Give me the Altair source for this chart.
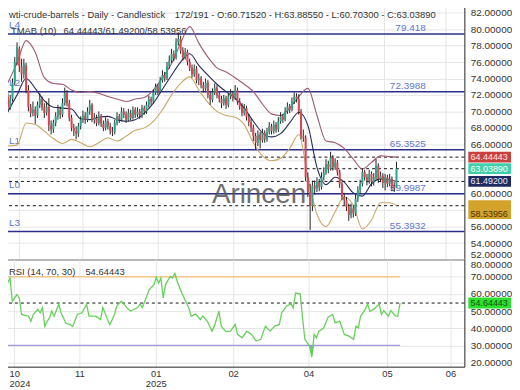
import json
import altair as alt
import pandas as pd

# ---------------- data ----------------
opens = [71.8,70.5,71.5,73.5,76.0,77.6,75.5,74.5,75.6,72.6,
70.5,69.8,70.2,69.5,70.8,71.5,70.5,69.8,70.6,68.3,
67.8,68.6,69.4,70.2,69.6,71.0,72.2,71.0,69.2,68.0,
67.6,67.3,68.2,69.0,69.5,69.0,70.0,70.8,69.0,69.2,
68.6,69.4,68.5,68.0,68.8,68.2,67.6,67.5,68.6,69.4,
69.0,70.0,69.6,69.0,69.8,69.2,70.2,69.6,70.0,69.5,
70.4,70.0,70.8,71.5,71.2,72.3,73.0,72.4,73.8,74.4,
74.0,75.5,76.2,77.0,76.5,78.4,78.8,77.4,76.6,77.2,
76.0,75.3,74.5,75.2,73.8,74.0,73.2,72.8,73.5,72.0,
71.4,72.3,72.9,72.0,71.5,71.0,71.6,70.8,71.8,72.2,
71.6,72.6,71.2,70.6,69.8,70.4,69.3,68.7,68.0,67.0,
66.2,67.2,66.5,67.4,66.6,67.5,68.2,67.6,68.4,67.8,
68.8,69.4,69.0,70.0,70.6,70.2,71.2,71.8,71.5,70.0,
67.0,66.8,62.0,60.2,58.5,61.0,60.6,61.4,60.8,62.0,
62.6,63.6,63.0,64.4,63.2,63.8,62.6,61.2,59.6,59.2,
58.4,57.4,58.2,57.6,59.4,60.4,61.2,62.6,62.0,61.6,
62.4,61.4,62.0,63.4,61.8,62.2,61.3,62.0,61.2,61.8,
60.9,60.7152]
highs = [72.2,72.0,74.0,76.6,78.4,77.9,76.4,76.4,75.9,73.2,
70.9,71.2,70.6,71.2,72.2,71.8,71.0,71.2,71.6,68.9,
69.0,69.9,70.8,70.6,71.6,72.9,72.6,71.4,69.6,68.5,
68.2,68.6,69.4,70.1,69.9,70.5,71.4,71.0,69.8,69.6,
70.0,69.7,68.9,69.3,69.1,68.6,68.1,69.0,69.9,69.7,
70.5,70.4,70.0,70.3,70.2,70.6,70.5,70.5,70.3,70.8,
70.7,71.2,71.9,71.8,72.7,73.4,73.3,74.2,75.0,74.8,
76.0,76.8,77.6,77.4,78.9,79.6,79.2,77.8,77.7,77.5,
76.4,75.7,75.7,75.5,74.6,74.3,73.6,74.0,73.8,72.4,
72.8,73.4,73.2,72.4,71.9,72.0,71.9,72.2,72.7,72.5,
73.2,72.9,71.6,71.0,70.9,70.7,69.7,69.1,68.4,67.4,
67.7,67.5,67.9,67.7,68.0,68.7,68.5,68.9,68.7,69.3,
69.9,69.7,70.5,71.1,70.9,71.7,72.3,72.2,72.1,70.3,
67.8,67.1,62.6,61.2,61.6,61.6,62.0,61.8,62.6,63.2,
64.2,64.0,65.1,64.7,64.3,64.1,62.9,61.5,60.1,59.6,
58.8,58.8,58.6,59.9,60.9,61.7,63.1,62.9,62.4,62.9,
62.7,62.5,64.2,63.7,62.7,62.5,62.4,62.3,62.4,62.1,
61.4,63.8855]
lows = [69.9,70.2,71.2,73.2,75.6,74.8,73.6,74.0,72.2,70.0,
69.3,69.4,68.5,69.2,70.4,70.1,69.2,69.5,67.6,67.2,
67.4,68.2,69.0,69.1,69.3,70.7,70.6,68.8,67.6,67.0,
66.6,66.9,67.8,68.6,68.5,68.7,69.6,68.7,68.5,68.2,
68.3,68.1,67.6,67.7,67.8,67.2,67.0,67.2,68.3,68.6,
68.8,69.2,68.6,68.8,68.9,69.0,69.2,69.3,69.1,69.2,
69.6,69.7,70.5,70.8,71.0,72.0,72.0,72.2,73.5,73.6,
73.8,75.2,75.9,76.1,76.3,78.0,77.0,76.2,76.3,75.6,
74.9,74.1,74.2,73.4,73.2,72.8,72.3,72.5,71.6,70.8,
71.1,72.0,71.6,71.1,70.4,70.7,70.3,70.5,71.5,71.2,
71.4,70.8,70.2,69.4,69.5,68.9,68.2,67.5,66.4,65.4,
65.8,65.5,66.2,66.2,66.3,67.2,67.2,67.3,67.4,67.5,
68.5,68.6,68.8,69.7,69.8,70.0,70.9,71.1,69.6,66.6,
66.3,61.5,59.6,55.6,57.9,59.9,60.2,60.3,60.5,61.6,
62.3,62.5,62.8,62.8,62.9,62.2,60.7,59.2,58.6,57.9,
56.7,57.0,57.1,57.3,59.0,60.0,60.9,61.6,61.0,61.2,
60.9,61.0,61.7,61.3,61.4,60.7,60.4,60.8,60.9,60.3,
60.2,60.703]
closes = [70.5,71.5,73.5,76.0,77.8,75.5,74.5,75.8,72.5,70.5,
69.8,70.2,69.5,70.8,71.5,70.5,69.8,70.6,68.3,67.8,
68.6,69.4,70.2,69.6,71.0,72.2,71.0,69.2,68.0,67.6,
67.3,68.2,69.0,69.5,69.0,70.0,70.8,69.0,69.2,68.6,
69.4,68.5,68.0,68.8,68.2,67.6,67.5,68.6,69.4,69.0,
70.0,69.6,69.0,69.8,69.2,70.2,69.6,70.0,69.5,70.4,
70.0,70.8,71.5,71.2,72.3,73.0,72.4,73.8,74.4,74.0,
75.5,76.2,77.0,76.5,78.4,78.8,77.4,76.6,77.2,76.0,
75.3,74.5,75.2,73.8,74.0,73.2,72.8,73.5,72.0,71.4,
72.3,72.9,72.0,71.5,71.0,71.6,70.8,71.8,72.2,71.6,
72.6,71.2,70.6,69.8,70.4,69.3,68.7,68.0,67.0,66.2,
67.2,66.5,67.4,66.6,67.5,68.2,67.6,68.4,67.8,68.8,
69.4,69.0,70.0,70.6,70.2,71.2,71.8,71.5,70.0,67.0,
66.8,62.0,60.2,58.5,61.0,60.6,61.4,60.8,62.0,62.6,
63.6,63.0,64.4,63.2,63.8,62.6,61.2,59.6,59.2,58.4,
57.4,58.2,57.6,59.4,60.4,61.2,62.6,62.0,61.6,62.4,
61.4,62.0,63.4,61.8,62.2,61.3,62.0,61.2,61.8,60.9,
60.7,63.0389]

band_idx = [0,4,8,12,16,20,24,28,32,36,40,44,48,52,56,60,64,68,72,76,80,84,
            88,92,96,100,104,108,112,116,120,124,128,132,136,140,144,148,152,156,160,164,168,171]
band_upper = [73.5,75.9,78.6,77.2,74.1,73.4,73.3,72.6,72.3,72.4,72.2,71.8,71.5,71.2,71.5,71.7,
              72.6,74.1,75.8,78.3,80.3,78.3,76.6,75.3,74.8,74.1,73.3,72.4,70.9,69.7,69.5,70.4,
              71.8,72.8,69.5,66.4,66.2,65.5,64.2,63.0,63.8,64.6,64.5,64.44443]
band_mid = [70.0,72.0,74.0,72.8,71.3,70.5,70.4,70.3,69.1,69.0,69.3,69.4,69.0,68.8,69.0,69.8,
            71.0,72.7,74.4,76.0,77.0,75.6,74.4,73.3,72.4,71.6,70.4,68.8,67.4,66.9,67.3,68.6,
            69.9,68.3,63.2,61.1,62.0,61.4,60.1,59.7,61.2,61.8,61.7,61.492]
band_lower = [65.8,65.9,68.6,68.4,67.6,66.7,66.1,66.6,66.2,65.7,66.2,66.8,66.4,67.0,67.7,68.0,
              68.8,70.2,72.0,73.4,74.2,72.6,71.1,70.0,69.5,69.3,68.4,66.2,64.6,64.0,64.3,65.5,
              67.2,62.0,57.5,56.0,57.8,59.6,58.6,55.7,56.8,58.9,58.9,58.53956]

rsi_idx = [0,1,3,4,6,7,8,11,12,13,15,16,17,18,19,20,21,22,24,25,27,29,30,32,34,36,37,40,42,43,
           45,46,48,49,51,52,54,55,58,59,60,63,65,66,67,68,69,70,72,73,74,75,77,79,80,81,83,85,86,88,
           90,91,93,94,96,98,100,101,103,105,107,109,111,113,115,117,119,120,122,124,125,126,128,129,130,
           132,133,134,135,136,138,140,142,143,145,147,149,151,152,153,154,156,157,158,160,162,163,164,
           166,167,169,170,171]
rsi_vals = [55.7,63.4,69.2,55.7,59.6,57.6,48.0,47.0,44.0,48.0,51.0,49.0,52.0,41.0,44.0,46.0,50.0,47.0,54.0,49.0,
            43.0,42.0,41.0,48.0,49.0,54.0,47.0,47.0,45.0,52.0,45.0,42.0,48.0,53.0,55.7,54.0,51.0,50.0,52.0,54.0,
            52.0,62.5,65.4,69.6,66.3,69.2,57.6,65.4,70.2,69.2,72.0,67.3,60.5,54.7,51.8,47.0,48.2,45.0,47.2,44.0,
            38.3,41.2,49.9,41.2,38.0,38.3,42.2,36.4,34.4,38.3,36.4,32.5,33.5,41.2,38.3,41.2,42.2,48.9,52.8,54.2,
            51.8,60.5,60.0,46.0,33.5,29.6,23.2,36.4,34.4,38.3,39.9,46.4,48.0,43.1,44.1,36.4,35.4,33.5,41.2,40.2,
            47.0,50.9,54.2,49.9,51.4,54.2,48.0,50.3,47.0,50.3,47.0,47.0,54.64443]

level_vals = [79.418, 72.3988, 65.3525, 59.9987, 55.3932]
level_left = ["L4", "L2", "L1", "L0", "L3"]
level_right = ["79.418", "72.3988", "65.3525", "59.9987", "55.3932"]

tag_vals = [64.44443, 63.03890, 61.49200, 58.53956]
tag_texts = ["64.44443", "63.03890", "61.49200", "58.53956"]
tag_bg = ["#c9413f", "#3fcfa9", "#1f2a5e", "#d3a22b"]
tag_fg = ["#ffe8e8", "#ffffff", "#e8ecff", "#4a3500"]

rsi_last = 54.64443
rsi_upper, rsi_lower = 70, 30

month_ticks = [4.7, 32.9, 65.8, 99.1, 131.6, 165.4, 192.7]
month_labels = [["10", "2024"], ["11"], ["01", "2025"], ["02"], ["04"], ["05"], ["06"]]
price_ticks = [52, 54, 56, 58, 60, 62, 64, 66, 68, 70, 72, 74, 76, 78, 80, 82]
hidden_price_labels = [58, 62, 64]
rsi_ticks = [20, 30, 40, 50, 60, 70, 80]

title_left = "wti-crude-barrels - Daily - Candlestick"
title_right = "172/191 - O:60.71520 - H:63.88550 - L:60.70300 - C:63.03890"
tmab_name = "TMAB (10)"
tmab_vals = "64.44443/61.49200/58.53956"
rsi_name = "RSI (14, 70, 30)"
rsi_val_text = "54.64443"
watermark = "Arincen"

# ---------------- chart ----------------
FONT = "Liberation Sans"
W, H1, H2 = 467, 260, 108
TS = 9.5

candles = pd.DataFrame({"i": list(range(len(closes))), "o": opens, "h": highs, "l": lows, "c": closes})
bands = pd.DataFrame({"i": band_idx, "upper": band_upper, "mid": band_mid, "lower": band_lower})
rsi = pd.DataFrame({"i": rsi_idx, "v": rsi_vals})
levels = pd.DataFrame({"v": level_vals, "left": level_left, "right": level_right})
tags = pd.DataFrame({"v": tag_vals, "t": tag_texts, "bg": tag_bg, "fg": tag_fg})

x_scale = alt.Scale(domain=[-0.85, 198.7], nice=False, zero=False)
y_scale = alt.Scale(domain=[52, 83.35], nice=False, zero=False)
r_scale = alt.Scale(domain=[17.6, 80], nice=False, zero=False)

expr = "''"
for t, lab in reversed(list(zip(month_ticks, month_labels))):
    expr = f"abs(datum.value - {t}) < 0.5 ? {json.dumps(lab)} : {expr}"

price_label_expr = f"indexof({json.dumps(hidden_price_labels)}, datum.value) >= 0 ? '' : datum.label"
first_tick_test = f"datum.value < {month_ticks[0] + 1}"

ax_main_x = alt.Axis(values=month_ticks, labels=False, ticks=False, domain=True, domainColor="#222",
                     domainWidth=1, grid=True, gridColor="#e6e6e6", title=None)
ax_rsi_x = alt.Axis(values=month_ticks, labelExpr=expr, ticks=False, domain=True, domainColor="#222",
                    grid=True, gridColor="#e6e6e6", title=None, labelAngle=0, labelPadding=2,
                    labelLineHeight=10, labelBaseline="top", labelFontSize=9.5,
                    labelAlign={"condition": {"test": first_tick_test, "value": "left"}, "value": "center"},
                    labelOffset={"condition": {"test": first_tick_test, "value": -5}, "value": 0})
ax_main_y = alt.Axis(orient="right", values=price_ticks, format=".5f", labelExpr=price_label_expr,
                     grid=True, gridColor="#e6e6e6", labelFlush=True,
                     ticks=False, domainColor="#222", labelPadding=6, title=None, labelFontSize=10)
ax_rsi_y = alt.Axis(orient="right", values=rsi_ticks, format=".5f", grid=True, gridColor="#e6e6e6",
                    labelFlush=True,
                    ticks=False, domainColor="#222", labelPadding=6, title=None, labelFontSize=10)


def XM(f="i"):
    return alt.X(f"{f}:Q", scale=x_scale, axis=ax_main_x)


def YM(f):
    return alt.Y(f"{f}:Q", scale=y_scale, axis=ax_main_y)


def XR(f="i"):
    return alt.X(f"{f}:Q", scale=x_scale, axis=ax_rsi_x)


def YR(f):
    return alt.Y(f"{f}:Q", scale=r_scale, axis=ax_rsi_y)


NAVY = "#2c2f8a"
LBL = "#6376c9"

grid_anchor = alt.Chart(candles).mark_rule(opacity=0).encode(x=XM(), y=YM("h"))
level_rules = alt.Chart(levels).mark_rule(color=NAVY, strokeWidth=1.5).encode(y=YM("v"))
level_ltxt = alt.Chart(levels).mark_text(align="left", baseline="alphabetic", dy=-6, fontSize=10,
                                         font=FONT, color=LBL).encode(x=alt.value(8), y=YM("v"), text="left:N")
level_rtxt = alt.Chart(levels).mark_text(align="right", baseline="alphabetic", dy=-3, fontSize=10,
                                         font=FONT, color=LBL).encode(x=alt.value(428), y=YM("v"), text="right:N")
dash_rules = alt.Chart(tags).mark_rule(color="#111", strokeWidth=1, strokeDash=[3, 3]).encode(y=YM("v"))

wm = alt.Chart(pd.DataFrame({"t": [watermark]})).mark_text(
    fontSize=28, font=FONT, color="#555", opacity=0.85, align="center", baseline="alphabetic"
).encode(x=alt.value(260), y=alt.value(203), text="t:N")

band_u = alt.Chart(bands).mark_line(color="#9d5a70", strokeWidth=1.1, interpolate="monotone").encode(x=XM(), y=YM("upper"))
band_m = alt.Chart(bands).mark_line(color="#262a58", strokeWidth=1.1, interpolate="monotone").encode(x=XM(), y=YM("mid"))
band_l = alt.Chart(bands).mark_line(color="#c9a867", strokeWidth=1.1, interpolate="monotone").encode(x=XM(), y=YM("lower"))

wicks = alt.Chart(candles).mark_rule(color="#222", strokeWidth=1).encode(x=XM(), y=YM("l"), y2="h")
bodies = alt.Chart(candles).transform_calculate(
    d="datum.c >= datum.o ? 'up' : 'down'"
).mark_bar(width=2).encode(
    x=XM(), y=YM("o"), y2="c",
    color=alt.Color("d:N", scale=alt.Scale(domain=["up", "down"], range=["#2ba58b", "#dc4450"]), legend=None),
)


def txt(s, x, y, color="#333", size=TS):
    return alt.Chart(pd.DataFrame({"t": [s]})).mark_text(
        align="left", baseline="alphabetic", fontSize=size, font=FONT, color=color
    ).encode(x=alt.value(x), y=alt.value(y), text="t:N")


titles = [txt(title_left, 8, 17), txt(title_right, 175, 17), txt(tmab_name, 10, 33), txt(tmab_vals, 63, 33)]

tags_a = tags.iloc[:3]
tags_b = tags.iloc[3:]


def tag_layers(df, off):
    base = alt.Chart(df).transform_calculate(lo="datum.v - 0.66", hi="datum.v + 0.66")
    r = base.mark_rect(yOffset=off).encode(x=alt.value(471), x2=alt.value(514), y=YM("lo"), y2="hi",
                                           color=alt.Color("bg:N", scale=None))
    t = base.mark_text(align="center", baseline="middle", fontSize=9, font=FONT, dy=off).encode(
        x=alt.value(492), y=YM("v"), text="t:N", color=alt.Color("fg:N", scale=None))
    return [r, t]


main = alt.layer(
    grid_anchor, level_rules, dash_rules, level_ltxt, level_rtxt, wm,
    band_u, band_l, band_m, wicks, bodies, *titles,
    *tag_layers(tags_a, 0), *tag_layers(tags_b, 8),
).properties(width=W, height=H1)

# ---------------- RSI panel ----------------
rsi_lv = pd.DataFrame({"v": [rsi_upper, rsi_lower], "a": [rsi_idx[0], rsi_idx[0]], "b": [rsi_idx[-1], rsi_idx[-1]]})
r_anchor = alt.Chart(rsi).mark_rule(opacity=0).encode(x=XR(), y=YR("v"))
r_up = alt.Chart(rsi_lv.iloc[:1]).mark_rule(color="#f2c98a", strokeWidth=1.5).encode(x=XR("a"), x2="b", y=YR("v"))
r_lo = alt.Chart(rsi_lv.iloc[1:]).mark_rule(color="#a597e0", strokeWidth=1.5).encode(x=XR("a"), x2="b", y=YR("v"))
r_dash = alt.Chart(pd.DataFrame({"v": [rsi_last]})).mark_rule(color="#111", strokeDash=[3, 3]).encode(y=YR("v"))
r_fill = alt.Chart(rsi).transform_calculate(m=f"min(datum.v, {rsi_lower})", b=f"{rsi_lower}").mark_area(
    color="#8578d6", opacity=0.75).encode(x=XR(), y=YR("m"), y2="b")
r_line = alt.Chart(rsi).mark_line(color="#66d15a", strokeWidth=1.3).encode(x=XR(), y=YR("v"))
r_t1 = txt(rsi_name, 8, 16)
r_t2 = txt(rsi_val_text, 85, 16)
r_tagdf = pd.DataFrame({"v": [rsi_last], "t": [rsi_val_text]})
r_tag_base = alt.Chart(r_tagdf).transform_calculate(lo="datum.v - 3.2", hi="datum.v + 3.2")
r_tag_r = r_tag_base.mark_rect(color="#2ee02e").encode(x=alt.value(471), x2=alt.value(514), y=YR("lo"), y2="hi")
r_tag_t = r_tag_base.mark_text(align="center", baseline="middle", fontSize=9, font=FONT, color="#145214").encode(
    x=alt.value(492), y=YR("v"), text="t:N")

rsi_panel = alt.layer(
    r_anchor, r_up, r_lo, r_dash, r_fill, r_line, r_t1, r_t2, r_tag_r, r_tag_t
).properties(width=W, height=H2)

chart = alt.vconcat(main, rsi_panel, spacing=0, bounds="flush").properties(
    padding={"left": -8, "top": -8, "right": 0, "bottom": 0}
).configure_view(stroke=None).configure_axis(
    labelFont=FONT, labelColor="#333"
).configure_concat(spacing=0)

chart.save("out.html", embed_options={"renderer": "svg", "actions": False})
